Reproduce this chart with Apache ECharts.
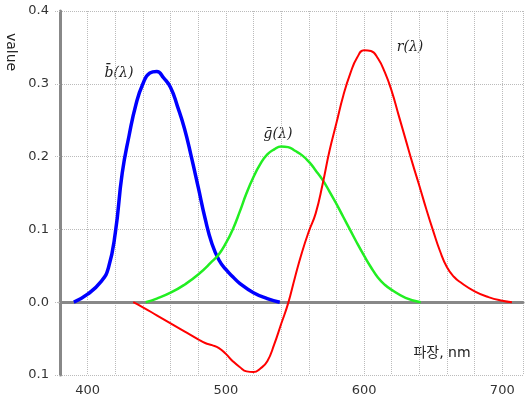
<!DOCTYPE html>
<html>
<head>
<meta charset="utf-8">
<script src="https://cdn.jsdelivr.net/npm/echarts@6/dist/echarts.min.js"></script>
<style>
  html, body { margin: 0; padding: 0; background: #fff; }
  #chart { width: 526px; height: 397px; }
</style>
</head>
<body>
<div id="chart"></div>
<script>
// wavelength (nm) / value pairs
const blueNm = [390, 400, 410, 415, 420, 425, 430, 435, 440, 445, 450, 455, 460, 465, 470, 475, 480, 485, 490, 495, 500, 505, 510, 520, 530, 539];
const blueVal = [0, 0.011, 0.029, 0.047, 0.095, 0.177, 0.229, 0.272, 0.300, 0.315, 0.317, 0.308, 0.295, 0.269, 0.239, 0.200, 0.158, 0.115, 0.080, 0.058, 0.045, 0.035, 0.026, 0.013, 0.005, 0];

const greenNm = [442, 450, 460, 470, 480, 490, 495, 500, 505, 510, 515, 520, 525, 530, 535, 540, 545, 550, 555, 560, 565, 570, 575, 580, 585, 590, 595, 600, 605, 610, 615, 620, 630, 641];
const greenVal = [0, 0.005, 0.013, 0.024, 0.038, 0.056, 0.066, 0.081, 0.100, 0.124, 0.150, 0.172, 0.190, 0.203, 0.210, 0.214, 0.213, 0.208, 0.202, 0.193, 0.181, 0.168, 0.152, 0.135, 0.117, 0.099, 0.081, 0.064, 0.048, 0.034, 0.024, 0.017, 0.006, 0];

const redNm = [433, 440, 450, 460, 470, 480, 485, 490, 495, 500, 505, 510, 515, 520, 525, 530, 535, 540, 545, 550, 555, 560, 565, 570, 575, 580, 585, 590, 595, 600, 605, 610, 615, 620, 625, 630, 635, 640, 645, 650, 655, 660, 665, 670, 680, 690, 700, 707];
const redVal = [0, -0.007, -0.018, -0.029, -0.040, -0.051, -0.056, -0.059, -0.063, -0.071, -0.081, -0.089, -0.095, -0.096, -0.091, -0.081, -0.058, -0.030, -0.002, 0.034, 0.068, 0.097, 0.122, 0.162, 0.208, 0.246, 0.284, 0.314, 0.336, 0.346, 0.345, 0.335, 0.316, 0.290, 0.257, 0.224, 0.191, 0.160, 0.128, 0.098, 0.070, 0.048, 0.035, 0.027, 0.015, 0.007, 0.002, 0];

const xLabels = [400, 500, 600, 700];

const pairs = (xs, ys) => xs.map((x, i) => [x, ys[i]]);

const gridLine = { show: true, lineStyle: { color: "#bbb", type: "dotted", width: 1 } };
const sansFont = "DejaVu Sans, Noto Sans CJK KR, sans-serif";
const mathFont = "italic 14px DejaVu Serif, serif";

let option = {
  animation: false,
  backgroundColor: "#fff",
  grid: { left: 60, right: 3, top: 11, bottom: 10 },
  xAxis: {
    type: "value",
    min: 380,
    max: 715,
    interval: 20,
    axisLine: { onZero: true, lineStyle: { color: "#888", width: 3 } },
    axisTick: { show: false },
    axisLabel: {
      color: "#333",
      fontSize: 13,
      fontFamily: sansFont,
      margin: 9,
      formatter: v => (xLabels.indexOf(v) >= 0 ? String(v) : "")
    },
    splitLine: gridLine
  },
  yAxis: {
    type: "value",
    min: -0.1,
    max: 0.4,
    interval: 0.1,
    axisLine: { show: true, onZero: false, lineStyle: { color: "#888", width: 3 } },
    axisTick: { show: true, length: 5, lineStyle: { color: "#bbb", type: "dotted" } },
    axisLabel: {
      color: "#333",
      fontSize: 13,
      fontFamily: sansFont,
      margin: 11,
      formatter: v => Math.abs(v).toFixed(1)
    },
    splitLine: gridLine
  },
  graphic: [
    {
      type: "text", x: 11, y: 52, rotation: -Math.PI / 2,
      style: { text: "value", fill: "#222", font: "14px " + sansFont, align: "center", verticalAlign: "middle" }
    },
    {
      type: "text", x: 442, y: 353,
      style: { text: "파장, nm", fill: "#222", font: "14px " + sansFont, align: "center", verticalAlign: "middle" }
    },
    {
      type: "text", x: 119, y: 73,
      style: { text: "b\u0304(λ)", fill: "#222", font: mathFont, align: "center", verticalAlign: "middle" }
    },
    {
      type: "text", x: 278, y: 134,
      style: { text: "g\u0304(λ)", fill: "#222", font: mathFont, align: "center", verticalAlign: "middle" }
    },
    {
      type: "text", x: 410, y: 47,
      style: { text: "r(λ)", fill: "#222", font: mathFont, align: "center", verticalAlign: "middle" }
    }
  ],
  series: [
    {
      name: "b", type: "line", smooth: 0.5, symbol: "none",
      lineStyle: { color: "#0000ff", width: 3.5 },
      data: pairs(blueNm, blueVal)
    },
    {
      name: "g", type: "line", smooth: 0.5, symbol: "none",
      lineStyle: { color: "#22ee22", width: 2.5 },
      data: pairs(greenNm, greenVal)
    },
    {
      name: "r", type: "line", smooth: 0.5, symbol: "none",
      lineStyle: { color: "#ff0000", width: 2 },
      data: pairs(redNm, redVal)
    }
  ]
};

let myChart = echarts.init(document.getElementById("chart"));
myChart.setOption(option);
</script>
</body>
</html>
